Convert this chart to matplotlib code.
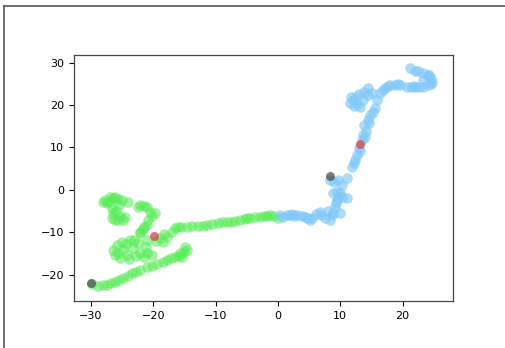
import numpy as np
import matplotlib
matplotlib.use("Agg")
import matplotlib.pyplot as plt
from matplotlib.lines import Line2D

# green trajectory (first segment)
green_x = [-29.8, -28.9, -28.1, -27.4, -26.8, -26.1, -25.5, -24.9, -24.1, -23.4,
           -22.8, -22.1, -21.0, -20.2, -19.4, -18.4, -17.8, -17.2, -16.5, -15.9,
           -15.4, -15.1, -14.9, -15.7, -14.6,
           -26.5, -26.1, -25.7, -25.3, -24.2, -23.3, -22.8, -22.1, -21.5, -21.0,
           -20.2, -25.0, -24.4, -23.7, -23.1, -22.1, -21.0, -18.9, -17.8, -18.4,
           -24.8, -23.8, -22.4, -21.2, -19.6, -18.3, -25.8,
           -28.1, -27.4, -26.9, -26.5, -26.1, -25.7, -25.0, -24.1, -27.1, -26.6,
           -26.5, -26.6, -26.1, -25.7, -24.9, -25.3, -22.1, -21.5, -21.0, -20.5,
           -19.7, -20.9, -21.0, -21.7, -22.1,
           -27.8, -25.5, -26.0, -24.5, -22.5, -20.2, -21.5,
           -17.0, -16.5, -15.6, -14.6, -13.8, -12.8, -12.0, -10.6, -9.6, -9.0,
           -8.2, -7.5, -6.9, -6.1, -5.3, -4.5, -3.7, -2.9, -2.2, -1.8, -0.8, 0.0,
           -16.0, -11.3, -4.9, -1.2]
green_y = [-22.2, -22.6, -22.4, -22.4, -21.9, -21.7, -21.2, -20.8, -20.3, -19.6,
           -19.3, -18.9, -18.2, -17.9, -17.5, -17.0, -16.5, -16.0, -15.8, -15.6,
           -15.8, -14.6, -13.4, -14.9, -14.2,
           -14.2, -15.3, -14.9, -16.0, -15.3, -13.7, -15.6, -14.9, -15.8, -14.9,
           -15.3, -12.3, -12.7, -11.8, -11.8, -10.1, -11.8, -11.3, -11.1, -12.3,
           -14.0, -16.2, -12.5, -13.5, -12.0, -10.4, -13.0,
           -2.8, -3.1, -1.7, -1.9, -1.7, -2.1, -2.4, -2.8, -2.8, -4.2,
           -5.4, -6.6, -7.1, -7.1, -7.1, -6.1, -3.5, -3.8, -4.0, -5.2,
           -5.4, -7.1, -8.3, -9.2, -9.9,
           -2.3, -3.5, -5.0, -6.5, -4.0, -6.2, -8.8,
           -9.9, -9.0, -8.7, -8.7, -8.5, -8.5, -8.5, -8.0, -7.8, -7.5,
           -7.5, -7.5, -7.3, -7.1, -6.8, -6.6, -6.4, -6.4, -6.1, -6.1, -6.1, -6.6,
           -8.8, -8.2, -6.7, -5.9]

# blue trajectory (second segment)
blue_x = [0.8, 1.4, 1.9, 2.6, 3.0, 3.8, 4.7, 5.1, 5.5, 6.1, 6.7, 7.5, 8.3, 8.7,
          8.8, 9.1, 9.9, 9.5, 8.8, 9.6, 10.3, 11.1, 9.5, 10.3, 9.6, 8.3, 11.1,
          11.9, 12.4, 12.7, 13.2, 13.5, 13.6, 14.1, 13.9, 14.4, 14.8, 15.2, 15.6,
          11.5, 12.0, 12.7, 13.2, 12.5, 13.6, 13.9, 14.4, 14.4, 15.1, 15.9, 16.4,
          16.8, 17.2, 18.0, 18.8, 19.6, 20.7, 21.3, 22.0, 22.6, 23.3, 24.1, 24.7,
          24.5, 24.1, 23.3, 22.5, 21.2, 23.3,
          0.3, 2.2, 4.3, 7.0, 8.0, 9.3, 10.0, 9.0, 12.2, 13.0, 14.0, 14.6,
          12.2, 13.0, 17.6, 19.2, 21.8, 24.6, 24.3, 22.0, 11.8]
blue_y = [-6.4, -5.9, -5.9, -6.1, -5.9, -6.1, -6.6, -7.1, -6.6, -5.7, -5.2, -6.6,
          -7.1, -5.9, -5.4, -4.0, -5.4, -2.4, -0.7, -1.7, -1.7, -1.9, -0.5, 1.2,
          2.4, 2.4, 2.8, 5.4, 7.1, 8.3, 9.2, 11.8, 13.0, 13.9, 15.3, 16.5, 17.7,
          18.4, 19.3, 20.5, 21.2, 20.3, 19.6, 21.9, 21.2, 23.1, 22.4, 24.1, 22.9,
          21.2, 22.9, 23.6, 24.1, 24.8, 24.8, 24.8, 24.3, 24.3, 24.3, 24.3, 24.3,
          24.8, 25.5, 26.4, 27.1, 27.6, 28.1, 28.8, 25.9,
          -6.0, -5.6, -6.4, -6.0, -5.0, -3.2, -0.8, 1.8, 6.3, 9.9, 12.5, 15.8,
          19.8, 22.5, 24.5, 25.0, 24.6, 25.0, 27.0, 28.0, 21.8]

# start points and mid points
start_x = [-30.0, 8.4]
start_y = [-22.0, 3.2]
mid_x = [-19.9, 13.2]
mid_y = [-10.9, 10.8]

fig = plt.figure(figsize=(5.05, 3.48), dpi=100)
ax = fig.add_axes([74 / 505, 47 / 348, 379 / 505, 246 / 348])

ax.scatter(green_x, green_y, s=58, color='#55ec55', alpha=0.55, linewidths=0)
ax.scatter(blue_x, blue_y, s=58, color='#80c8f8', alpha=0.65, linewidths=0)
ax.scatter(start_x, start_y, s=42, color='#444444', alpha=0.7, linewidths=0)
ax.scatter(mid_x, mid_y, s=42, color='#d9404a', alpha=0.75, linewidths=0)

ax.set_xlim(-32.7, 28.1)
ax.set_ylim(-26.2, 31.8)
ax.set_xticks([-30, -20, -10, 0, 10, 20])
ax.set_yticks([-20, -10, 0, 10, 20, 30])
ax.tick_params(labelsize=8, length=3.5, width=0.8)
for sp in ax.spines.values():
    sp.set_color('#444444')
    sp.set_linewidth(0.9)

# notebook output frame
fig.add_artist(Line2D([4 / 505, 1], [1 - 6 / 348, 1 - 6 / 348], color='#555555', lw=1.2))
fig.add_artist(Line2D([4 / 505, 4 / 505], [0, 1 - 6 / 348], color='#555555', lw=1.2))

fig.savefig('out.png', dpi=100)
